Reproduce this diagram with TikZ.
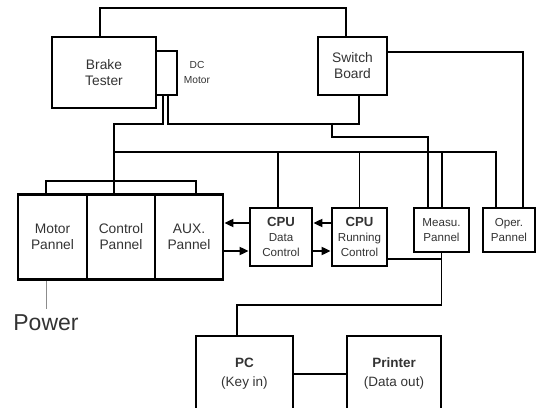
\documentclass[tikz,border=0pt]{standalone}
\usepackage{fontspec}
\setmainfont{Liberation Sans}
\usetikzlibrary{arrows.meta}
\begin{document}
\begin{tikzpicture}[x=1pt,y=1pt,
  box/.style={draw=black, line width=2.8pt, inner sep=0pt, align=center, text=black!80},
  wire/.style={line width=1.9pt},
  thinwire/.style={line width=1.3pt},
  pwire/.style={line width=1pt, draw=black!45},
  arr/.style={line width=1.9pt, -{Triangle[length=9pt,width=8pt]}},
  fbig/.style={font=\fontsize{13.8}{16}\selectfont},
  fmid/.style={font=\fontsize{11.6}{15}\selectfont},
  fsmall/.style={font=\fontsize{10.2}{15}\selectfont},
]
\useasboundingbox (0,0) rectangle (537,407);
\clip (0,0) rectangle (537,407);
% boxes
\node[box, fbig, minimum width=104pt, minimum height=71pt] (brake) at (104,334.5) {Brake\\Tester};
\node[box, minimum width=21pt, minimum height=44pt] (dcm) at (166.5,334) {};
\node[fsmall, align=center, text=black!80, inner sep=0pt] (dclabel) at (197,334.5) {DC\\Motor};
\node[box, fbig, minimum width=69pt, minimum height=58pt] (switch) at (352.5,341) {Switch\\Board};
\node[box, fbig, minimum width=69pt, minimum height=85pt] (motorp) at (52.5,170) {Motor\\Pannel};
\node[box, fbig, minimum width=68pt, minimum height=85pt] (ctrlp) at (121,170) {Control\\Pannel};
\node[box, fbig, minimum width=68pt, minimum height=85pt] (auxp) at (189,170) {AUX.\\Pannel};
\node[box, fmid, minimum width=62pt, minimum height=58pt] (cpud) at (281,170) {{\fontsize{13.2}{15}\selectfont\bfseries CPU}\\Data\\Control};
\node[box, fmid, minimum width=55pt, minimum height=58pt] (cpur) at (359.5,170) {{\fontsize{13.2}{15}\selectfont\bfseries CPU}\\Running\\Control};
\node[box, fmid, minimum width=55pt, minimum height=44pt] (meas) at (441.5,177) {Measu.\\Pannel};
\node[box, fmid, minimum width=52pt, minimum height=44pt] (oper) at (509,177) {Oper.\\Pannel};
\node[box, font=\fontsize{13.5}{19}\selectfont, minimum width=97pt, minimum height=76pt] (pc) at (244.5,33) {\textbf{PC}\\(Key in)};
\node[box, font=\fontsize{13.5}{19}\selectfont, minimum width=94pt, minimum height=76pt] (printer) at (394,33) {\textbf{Printer}\\(Data out)};
\node[font=\fontsize{23}{26}\selectfont, inner sep=0pt, anchor=base, text=black!80] (power) at (46,77) {Power};
% connectors
\draw[wire] ([xshift=-4pt]brake.north) -- ++(0,27.5) -| ([xshift=-6.5pt]switch.north);
\draw[wire] ([xshift=1.5pt]dcm.south) -- ++(0,-28) coordinate (dm) -| ([xshift=6.5pt]switch.south);
\coordinate (mb) at (332,284);
\draw[wire] (mb) -- ++(0,-14) -| ([xshift=-13.5pt]meas.north);
\draw[wire] ([xshift=-3.5pt]dcm.south) -- ++(0,-28) -| ([xshift=-7pt]ctrlp.north);
\coordinate (bus) at (114,255);
\draw[wire] (bus) -| ([xshift=-13pt]oper.north);
\draw[wire] ([xshift=-3pt]cpud.north) coordinate (c1) -- (c1 |- bus);
\draw[wire] (cpur.north) -- (cpur.north |- bus);
\draw[wire] ([xshift=0.5pt]meas.north) coordinate (c3) -- (c3 |- bus);
\draw[wire] ([xshift=-6.5pt]motorp.north) -- ++(0,12) -| ([xshift=7pt]auxp.north);
\draw[wire] ([yshift=14pt]switch.east) -| ([xshift=14pt]oper.north);
\draw[arr] ([yshift=14pt]cpud.west) -- ([yshift=14pt]auxp.east);
\draw[arr] ([yshift=-14pt]auxp.east) -- ([yshift=-14pt]cpud.west);
\draw[arr] ([yshift=14pt]cpur.west) -- ([yshift=14pt]cpud.east);
\draw[arr] ([yshift=-14pt]cpud.east) -- ([yshift=-14pt]cpur.west);
\draw[wire] (meas.south) -- ++(0,-52) -| ([xshift=-7.5pt]pc.north);
\draw[thinwire] ([yshift=-22pt]cpur.east) coordinate (r1) -- (r1 -| meas.south);
\draw[thinwire] (pc.east) -- (printer.west);
\draw[pwire] ([xshift=-6.5pt]motorp.south) -- ([yshift=5pt]power.north);
\end{tikzpicture}
\end{document}
